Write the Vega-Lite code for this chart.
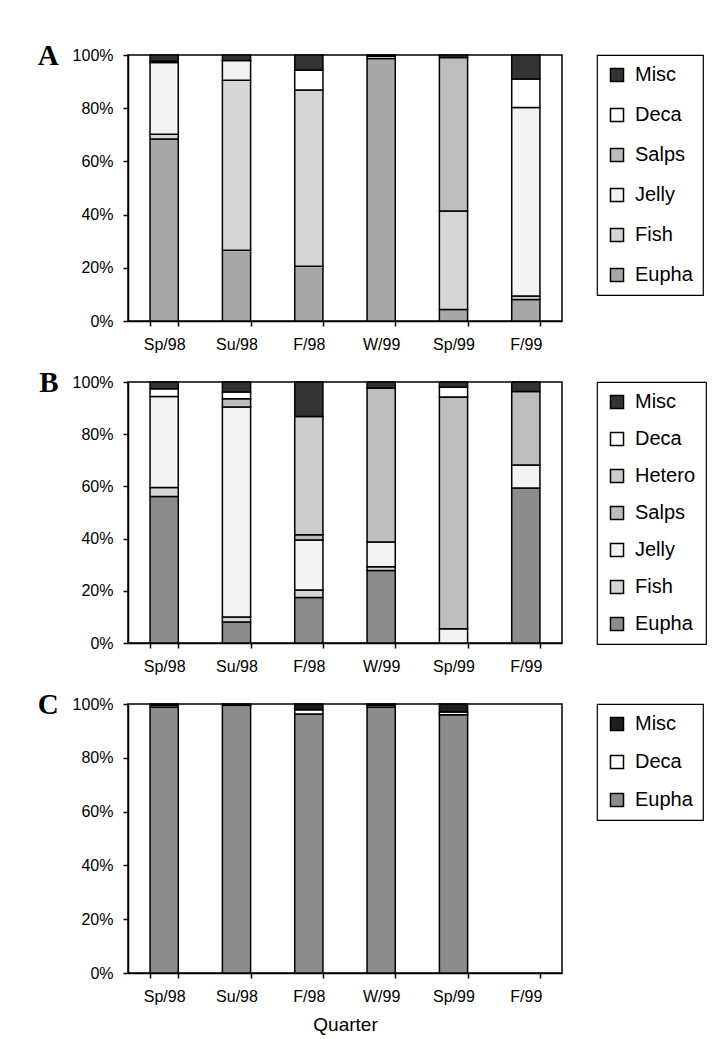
{
  "$schema": "https://vega.github.io/schema/vega-lite/v6.json",
  "padding": {"left": 36, "top": 40, "right": 5, "bottom": 0},
  "background": "white",
  "datasets": {
    "rank": [
      {"t": "Eupha", "k": 1}, {"t": "Fish", "k": 2}, {"t": "Jelly", "k": 3}, {"t": "Salps", "k": 4}, {"t": "Hetero", "k": 5}, {"t": "Deca", "k": 6}, {"t": "Misc", "k": 7}
    ],
    "a": [
      {"q": "Sp/98", "t": "Eupha", "v": 68.4}, {"q": "Sp/98", "t": "Fish", "v": 1.8}, {"q": "Sp/98", "t": "Jelly", "v": 27.0}, {"q": "Sp/98", "t": "Deca", "v": 0.5}, {"q": "Sp/98", "t": "Misc", "v": 2.3},
      {"q": "Su/98", "t": "Eupha", "v": 26.6}, {"q": "Su/98", "t": "Fish", "v": 63.9}, {"q": "Su/98", "t": "Jelly", "v": 7.4}, {"q": "Su/98", "t": "Misc", "v": 2.1},
      {"q": "F/98", "t": "Eupha", "v": 20.6}, {"q": "F/98", "t": "Fish", "v": 66.2}, {"q": "F/98", "t": "Deca", "v": 7.6}, {"q": "F/98", "t": "Misc", "v": 5.6},
      {"q": "W/99", "t": "Eupha", "v": 98.7}, {"q": "W/99", "t": "Deca", "v": 0.8}, {"q": "W/99", "t": "Misc", "v": 0.5},
      {"q": "Sp/99", "t": "Eupha", "v": 4.3}, {"q": "Sp/99", "t": "Fish", "v": 37.1}, {"q": "Sp/99", "t": "Salps", "v": 57.7}, {"q": "Sp/99", "t": "Misc", "v": 0.9},
      {"q": "F/99", "t": "Eupha", "v": 8.1}, {"q": "F/99", "t": "Fish", "v": 1.3}, {"q": "F/99", "t": "Jelly", "v": 70.9}, {"q": "F/99", "t": "Deca", "v": 10.7}, {"q": "F/99", "t": "Misc", "v": 9.0}
    ],
    "b": [
      {"q": "Sp/98", "t": "Eupha", "v": 56.1}, {"q": "Sp/98", "t": "Fish", "v": 3.5}, {"q": "Sp/98", "t": "Jelly", "v": 34.8}, {"q": "Sp/98", "t": "Deca", "v": 3.0}, {"q": "Sp/98", "t": "Misc", "v": 2.6},
      {"q": "Su/98", "t": "Eupha", "v": 8.0}, {"q": "Su/98", "t": "Fish", "v": 2.0}, {"q": "Su/98", "t": "Jelly", "v": 80.4}, {"q": "Su/98", "t": "Salps", "v": 3.2}, {"q": "Su/98", "t": "Deca", "v": 2.6}, {"q": "Su/98", "t": "Misc", "v": 3.8},
      {"q": "F/98", "t": "Eupha", "v": 17.4}, {"q": "F/98", "t": "Fish", "v": 2.9}, {"q": "F/98", "t": "Jelly", "v": 19.2}, {"q": "F/98", "t": "Salps", "v": 2.0}, {"q": "F/98", "t": "Hetero", "v": 45.3}, {"q": "F/98", "t": "Misc", "v": 13.2},
      {"q": "W/99", "t": "Eupha", "v": 27.8}, {"q": "W/99", "t": "Fish", "v": 1.4}, {"q": "W/99", "t": "Jelly", "v": 9.5}, {"q": "W/99", "t": "Salps", "v": 59.0}, {"q": "W/99", "t": "Misc", "v": 2.3},
      {"q": "Sp/99", "t": "Jelly", "v": 5.5}, {"q": "Sp/99", "t": "Salps", "v": 88.8}, {"q": "Sp/99", "t": "Deca", "v": 3.7}, {"q": "Sp/99", "t": "Misc", "v": 2.0},
      {"q": "F/99", "t": "Eupha", "v": 59.4}, {"q": "F/99", "t": "Jelly", "v": 8.8}, {"q": "F/99", "t": "Salps", "v": 28.2}, {"q": "F/99", "t": "Misc", "v": 3.6}
    ],
    "c": [
      {"q": "Sp/98", "t": "Eupha", "v": 98.9}, {"q": "Sp/98", "t": "Deca", "v": 0.6}, {"q": "Sp/98", "t": "Misc", "v": 0.5},
      {"q": "Su/98", "t": "Eupha", "v": 99.5}, {"q": "Su/98", "t": "Misc", "v": 0.5},
      {"q": "F/98", "t": "Eupha", "v": 96.3}, {"q": "F/98", "t": "Deca", "v": 1.6}, {"q": "F/98", "t": "Misc", "v": 2.1},
      {"q": "W/99", "t": "Eupha", "v": 98.9}, {"q": "W/99", "t": "Deca", "v": 0.6}, {"q": "W/99", "t": "Misc", "v": 0.5},
      {"q": "Sp/99", "t": "Eupha", "v": 96.0}, {"q": "Sp/99", "t": "Deca", "v": 1.0}, {"q": "Sp/99", "t": "Misc", "v": 3.0}
    ]
  },
  "spacing": 14,
  "resolve": {"scale": {"color": "independent", "x": "independent", "y": "independent"}, "legend": {"color": "independent"}},
  "vconcat": [
    {
      "width": 434, "height": 266,
      "data": {"name": "a"},
      "transform": [{"lookup": "t", "from": {"data": {"name": "rank"}, "key": "t", "fields": ["k"]}}],
      "mark": {"type": "bar", "stroke": "black", "strokeWidth": 1.5},
      "encoding": {
        "x": {"field": "q", "type": "nominal", "scale": {"domain": ["Sp/98", "Su/98", "F/98", "W/99", "Sp/99", "F/99"], "paddingInner": 0.61, "paddingOuter": 0.305}, "axis": {"title": null}},
        "y": {"field": "v", "type": "quantitative", "stack": "normalize", "axis": {"title": "A"}},
        "order": {"field": "k", "type": "quantitative", "sort": "ascending"},
        "color": {"field": "t", "type": "nominal", "scale": {"domain": ["Misc", "Deca", "Salps", "Jelly", "Fish", "Eupha"], "range": ["#333333", "#ffffff", "#bdbdbd", "#f3f3f3", "#d6d6d6", "#a8a8a8"]}, "legend": {"rowPadding": 20}}
      }
    },
    {
      "width": 434, "height": 261,
      "data": {"name": "b"},
      "transform": [{"lookup": "t", "from": {"data": {"name": "rank"}, "key": "t", "fields": ["k"]}}],
      "mark": {"type": "bar", "stroke": "black", "strokeWidth": 1.5},
      "encoding": {
        "x": {"field": "q", "type": "nominal", "scale": {"domain": ["Sp/98", "Su/98", "F/98", "W/99", "Sp/99", "F/99"], "paddingInner": 0.61, "paddingOuter": 0.305}, "axis": {"title": null}},
        "y": {"field": "v", "type": "quantitative", "stack": "normalize", "axis": {"title": "B"}},
        "order": {"field": "k", "type": "quantitative", "sort": "ascending"},
        "color": {"field": "t", "type": "nominal", "scale": {"domain": ["Misc", "Deca", "Hetero", "Salps", "Jelly", "Fish", "Eupha"], "range": ["#333333", "#ffffff", "#cccccc", "#bdbdbd", "#f3f3f3", "#d6d6d6", "#8c8c8c"]}, "legend": {"rowPadding": 17}}
      }
    },
    {
      "width": 434, "height": 269,
      "data": {"name": "c"},
      "transform": [{"lookup": "t", "from": {"data": {"name": "rank"}, "key": "t", "fields": ["k"]}}],
      "mark": {"type": "bar", "stroke": "black", "strokeWidth": 1.5},
      "encoding": {
        "x": {"field": "q", "type": "nominal", "scale": {"domain": ["Sp/98", "Su/98", "F/98", "W/99", "Sp/99", "F/99"], "paddingInner": 0.61, "paddingOuter": 0.305}, "axis": {"title": "Quarter"}},
        "y": {"field": "v", "type": "quantitative", "stack": "normalize", "axis": {"title": "C"}},
        "order": {"field": "k", "type": "quantitative", "sort": "ascending"},
        "color": {"field": "t", "type": "nominal", "scale": {"domain": ["Misc", "Deca", "Eupha"], "range": ["#1e1e1e", "#ffffff", "#8c8c8c"]}, "legend": {"rowPadding": 18}}
      }
    }
  ],
  "config": {
    "view": {"stroke": "black", "strokeWidth": 1.5},
    "font": "Liberation Sans",
    "axis": {"domainColor": "black", "domainWidth": 1.5, "tickColor": "black", "tickWidth": 1.5, "tickSize": 5, "grid": false, "labelColor": "black", "labelFont": "Liberation Sans", "labelFontSize": 16},
    "axisX": {"labelAngle": 0, "tickBand": "extent", "labelPadding": 10, "titleFont": "Liberation Sans", "titleFontSize": 19, "titleFontWeight": "normal", "titleColor": "black", "titlePadding": 11},
    "axisY": {"values": [0, 0.2, 0.4, 0.6, 0.8, 1], "format": ".0%", "labelPadding": 10, "titleAngle": 0, "titleAnchor": "end", "titleAlign": "right", "titleBaseline": "middle", "titleFont": "Liberation Serif", "titleFontWeight": "bold", "titleFontSize": 29, "titleColor": "black", "titlePadding": 14},
    "legend": {"title": null, "orient": "right", "offset": 35, "strokeColor": "black", "strokeWidth": 1.2, "padding": 10, "labelFont": "Liberation Sans", "labelFontSize": 20, "labelColor": "black", "labelOffset": 8, "symbolType": "square", "symbolSize": 170, "symbolStrokeColor": "black", "symbolStrokeWidth": 1.5, "symbolOpacity": 1}
  }
}
